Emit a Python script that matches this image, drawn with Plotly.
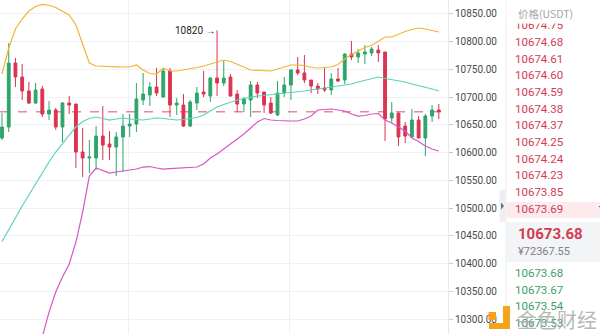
import plotly.graph_objects as go
import numpy as np

W, H = 600, 334

# ---------------- data ----------------
opens = [10626.2, 10646.0, 10761.2, 10736.0, 10710.8, 10689.2, 10714.4, 10669.4, 10676.6, 10646.0,
         10689.2, 10687.4, 10601.0, 10590.2, 10590.2, 10629.8, 10615.4, 10610.0, 10628.0, 10647.8,
         10651.4, 10694.6, 10703.6, 10718.0, 10700.0, 10746.8, 10685.6, 10685.6, 10647.8, 10689.2,
         10709.0, 10701.8, 10734.2, 10725.2, 10736.0, 10705.4, 10687.4, 10694.6, 10721.6, 10709.0,
         10689.2, 10667.6, 10707.2, 10721.6, 10748.6, 10743.2, 10730.6, 10719.8, 10716.2, 10712.6,
         10732.4, 10730.6, 10777.4, 10772.0, 10777.4, 10779.2, 10784.6, 10781.0, 10662.2, 10671.2,
         10647.8, 10628.0, 10658.6, 10626.2, 10665.8, 10676.6]
highs = [10671.2, 10797.2, 10770.2, 10759.4, 10727.0, 10725.2, 10719.8, 10692.8, 10680.2, 10691.0,
         10701.8, 10687.4, 10644.2, 10622.6, 10647.8, 10683.8, 10638.8, 10637.0, 10669.4, 10669.4,
         10725.2, 10743.2, 10727.0, 10752.2, 10752.2, 10752.2, 10698.2, 10705.4, 10694.6, 10718.0,
         10746.8, 10735.5, 10820.0, 10764.8, 10741.4, 10712.6, 10700.0, 10728.8, 10727.0, 10709.0,
         10700.0, 10728.8, 10736.0, 10750.0, 10772.0, 10775.6, 10730.6, 10725.2, 10754.0, 10743.2,
         10752.2, 10778.5, 10800.8, 10786.4, 10793.6, 10790.0, 10793.6, 10781.0, 10691.0, 10671.2,
         10655.0, 10678.4, 10665.8, 10669.4, 10685.6, 10687.4]
lows = [10622.6, 10637.0, 10718.0, 10694.6, 10687.4, 10687.4, 10664.0, 10658.6, 10640.6, 10619.0,
        10669.4, 10572.2, 10556.0, 10563.2, 10568.6, 10586.6, 10586.6, 10557.8, 10565.0, 10628.0,
        10637.0, 10685.6, 10683.8, 10701.8, 10699.0, 10664.0, 10667.6, 10646.0, 10646.0, 10676.6,
        10700.0, 10691.0, 10701.8, 10719.8, 10701.0, 10673.0, 10673.0, 10664.0, 10698.2, 10671.2,
        10669.4, 10665.8, 10700.0, 10694.6, 10739.6, 10725.2, 10707.2, 10705.4, 10709.0, 10703.6,
        10727.0, 10723.4, 10766.6, 10761.2, 10759.4, 10773.8, 10763.0, 10620.8, 10653.2, 10611.8,
        10617.2, 10628.0, 10626.2, 10593.8, 10655.0, 10660.4]
closes = [10646.0, 10761.2, 10736.0, 10710.8, 10689.2, 10712.6, 10669.4, 10676.6, 10646.0, 10689.2,
          10685.6, 10601.0, 10590.2, 10592.0, 10629.8, 10613.6, 10610.0, 10628.0, 10647.8, 10651.4,
          10696.4, 10705.4, 10718.0, 10707.2, 10746.8, 10685.6, 10689.2, 10647.8, 10691.0, 10707.2,
          10705.4, 10734.2, 10725.2, 10734.2, 10701.8, 10687.4, 10696.4, 10721.6, 10707.2, 10685.6,
          10671.2, 10707.2, 10721.6, 10748.6, 10743.2, 10730.6, 10719.8, 10714.4, 10712.6, 10732.4,
          10728.8, 10777.4, 10772.0, 10779.2, 10781.0, 10786.4, 10779.2, 10660.4, 10671.2, 10628.0,
          10629.8, 10658.6, 10626.2, 10665.8, 10676.6, 10673.68]

upper = [10741.4, 10788.2, 10822.4, 10840.4, 10854.8, 10862.9, 10866.7, 10865.1, 10861.1, 10854.8,
         10847.6, 10829.6, 10793.6, 10761.2, 10755.8, 10754.9, 10754.7, 10754.4, 10754.0, 10754.0,
         10757.6, 10748.6, 10742.3, 10741.4, 10752.2, 10746.8, 10746.8, 10748.6, 10750.4, 10753.1,
         10755.8, 10759.4, 10763.0, 10766.6, 10763.9, 10759.4, 10754.0, 10748.6, 10747.7, 10746.8,
         10746.8, 10750.4, 10754.0, 10757.6, 10757.6, 10756.7, 10753.1, 10752.2, 10753.1, 10754.0,
         10758.5, 10768.4, 10776.5, 10782.8, 10789.1, 10792.7, 10800.8, 10808.0, 10808.0, 10813.4,
         10817.9, 10821.5, 10824.2, 10822.4, 10819.7, 10817.0]
middle = [10439.9, 10462.4, 10482.2, 10503.8, 10523.6, 10543.4, 10565.0, 10583.0, 10601.0, 10617.2,
          10631.6, 10646.0, 10655.9, 10661.3, 10664.0, 10661.3, 10658.6, 10660.4, 10662.2, 10660.4,
          10659.5, 10658.6, 10660.4, 10662.2, 10661.3, 10659.5, 10658.6, 10659.5, 10661.3, 10663.1,
          10667.6, 10674.8, 10682.0, 10686.5, 10691.0, 10694.6, 10697.3, 10700.0, 10701.8, 10702.7,
          10704.5, 10706.3, 10707.2, 10708.1, 10709.0, 10710.8, 10712.6, 10714.4, 10716.2, 10718.0,
          10718.9, 10721.6, 10723.4, 10727.0, 10729.7, 10733.3, 10736.0, 10733.3, 10731.5, 10728.8,
          10727.0, 10723.4, 10720.7, 10717.1, 10714.4, 10710.8]
lower = [10138.4, 10136.6, 10142.0, 10167.2, 10192.4, 10223.9, 10269.8, 10313.0, 10349.0, 10376.0,
         10399.4, 10439.0, 10493.0, 10557.8, 10572.2, 10567.7, 10563.2, 10565.0, 10566.8, 10567.7,
         10570.4, 10574.0, 10574.9, 10572.2, 10570.4, 10571.3, 10572.2, 10572.2, 10573.1, 10574.0,
         10579.4, 10590.2, 10597.4, 10606.4, 10615.4, 10624.4, 10633.4, 10644.2, 10655.0, 10661.3,
         10658.6, 10657.7, 10656.8, 10656.8, 10656.8, 10660.4, 10665.8, 10676.6, 10677.5, 10678.4,
         10676.6, 10674.8, 10669.4, 10665.8, 10666.7, 10669.4, 10670.3, 10658.6, 10653.2, 10646.0,
         10638.8, 10626.2, 10619.9, 10611.8, 10606.4, 10602.8]

y_ticks = [10300, 10350, 10400, 10450, 10500, 10550, 10600, 10650, 10700, 10750, 10800, 10850]
last_price = 10673.68
peak_label = "10820 →"
peak_index = 32
peak_value = 10820.0

ask_prices = ["10674.75", "10674.68", "10674.61", "10674.60", "10674.59", "10674.38",
              "10674.37", "10674.25", "10674.24", "10674.23", "10673.85", "10673.69"]
bid_prices = ["10673.68", "10673.67", "10673.54", "10673.53"]
last_price_text = "10673.68"
cny_text = "¥72367.55"
header_text = "价格(USDT)"
watermark_text = "金色财经"

# ---------------- style ----------------
RED = "#db3450"
GREEN = "#2fa56a"
TXT_RED = "#d23c52"
TXT_GREEN = "#3a9f6c"
FONT = "Roboto"
PLOT_R = 448          # right edge of candle area (px)
BOOK_L = 506          # left edge of order book (px)

x = np.arange(len(opens))
step_px = 6.72
x_first_px = 2.0

fig = go.Figure()

fig.add_trace(go.Candlestick(
    x=x, open=opens, high=highs, low=lows, close=closes,
    increasing=dict(line=dict(color=GREEN, width=1), fillcolor=GREEN),
    decreasing=dict(line=dict(color=RED, width=1), fillcolor=RED),
    whiskerwidth=0, hoverinfo="skip", showlegend=False,
))
for vals, col in [(upper, "#f2b431"), (middle, "#5ad2c0"), (lower, "#d854c8")]:
    fig.add_trace(go.Scatter(x=x, y=vals, mode="lines", line=dict(color=col, width=1.2),
                             hoverinfo="skip", showlegend=False))

# order book texts
ask_y = 26.3 + 16.7 * np.arange(len(ask_prices))
bid_y = 274.0 + 16.7 * np.arange(len(bid_prices))
fig.add_trace(go.Scatter(x=[515] * len(ask_prices), y=ask_y, text=ask_prices, mode="text",
                         textposition="middle right",
                         textfont=dict(family=FONT, size=11.5, color=TXT_RED),
                         xaxis="x2", yaxis="y2", hoverinfo="skip", showlegend=False))
fig.add_trace(go.Scatter(x=[515] * len(bid_prices), y=bid_y, text=bid_prices, mode="text",
                         textposition="middle right",
                         textfont=dict(family=FONT, size=11.5, color=TXT_GREEN),
                         xaxis="x2", yaxis="y2", hoverinfo="skip", showlegend=False))

x_lo = -x_first_px / step_px
x_hi = x_lo + PLOT_R / step_px
y_lo, y_hi = 10273.5, 10874.6

fig.update_layout(
    width=W, height=H, margin=dict(l=0, r=0, t=0, b=0),
    paper_bgcolor="white", plot_bgcolor="white",
    boxgap=0.4,
    xaxis=dict(domain=[0, PLOT_R / W], range=[x_lo, x_hi], rangeslider=dict(visible=False),
               showticklabels=False, ticks="", showgrid=True, gridcolor="#eef0f3",
               tickvals=[(128 - x_first_px) / step_px, (289 - x_first_px) / step_px],
               zeroline=False, showline=False, fixedrange=True),
    yaxis=dict(range=[y_lo, y_hi], side="right", anchor="x", tickvals=y_ticks,
               tickformat=".2f", ticks="outside", ticklen=4, tickcolor="#c8cbd0",
               tickfont=dict(family=FONT, size=10, color="#4a4a4a"),
               showgrid=True, gridcolor="#f0f1f4", zeroline=False,
               showline=True, linecolor="#e6e8eb", linewidth=1, fixedrange=True),
    xaxis2=dict(domain=[BOOK_L / W, 1], range=[BOOK_L, W], anchor="y2", visible=False),
    yaxis2=dict(domain=[0, 1], range=[H, 0], anchor="x2", visible=False),
)

def px(xp):
    return xp / W

def py(yp):
    return 1 - yp / H

shapes = []
# current price dashed line
shapes.append(dict(type="line", xref="x", yref="y", x0=x_lo, x1=x_hi, y0=last_price, y1=last_price,
                   line=dict(color="#e68a96", width=1.5, dash="dash"), layer="between"))
# order book separator line
shapes.append(dict(type="line", xref="paper", yref="paper", x0=px(BOOK_L), x1=px(BOOK_L), y0=0, y1=1,
                   line=dict(color="#eceef1", width=1)))
# white header band hiding the top half of the first ask row
shapes.append(dict(type="rect", xref="paper", yref="paper", x0=px(BOOK_L + 0.6), x1=1,
                   y0=py(23.5), y1=1, fillcolor="white", line=dict(width=0), layer="above"))
# highlighted ask row
shapes.append(dict(type="rect", xref="paper", yref="paper", x0=px(BOOK_L + 0.5), x1=1,
                   y0=py(218), y1=py(202), fillcolor="#fdeaed", line=dict(width=0), layer="below"))
# last price block
shapes.append(dict(type="rect", xref="paper", yref="paper", x0=px(BOOK_L + 0.5), x1=1,
                   y0=py(262), y1=py(222), fillcolor="#f3f4f6", line=dict(width=0), layer="below"))
# collapse handle
shapes.append(dict(type="rect", xref="paper", yref="paper", x0=px(499.5), x1=px(505.5),
                   y0=py(222), y1=py(190), fillcolor="#eceef1", line=dict(width=0)))
shapes.append(dict(type="path", xref="paper", yref="paper",
                   path=f"M {px(501)} {py(202.5)} L {px(504)} {py(206)} L {px(501)} {py(209.5)} Z",
                   fillcolor="#6b6f75", line=dict(width=0)))
# watermark logo
LOGO = "#f5a31a"
shapes.append(dict(type="rect", xref="paper", yref="paper", x0=px(488.5), x1=px(496), y0=py(320), y1=py(312),
                   fillcolor=LOGO, line=dict(width=0), layer="above"))
shapes.append(dict(type="rect", xref="paper", yref="paper", x0=px(503), x1=px(510), y0=py(329), y1=py(306),
                   fillcolor=LOGO, line=dict(width=0), layer="above"))
shapes.append(dict(type="rect", xref="paper", yref="paper", x0=px(489), x1=px(510), y0=py(329), y1=py(323),
                   fillcolor=LOGO, line=dict(width=0), layer="above"))
fig.update_layout(shapes=shapes)

annotations = [
    dict(x=peak_index, y=peak_value, xref="x", yref="y", text=peak_label, showarrow=False,
         xanchor="right", yanchor="middle", xshift=1, font=dict(family=FONT, size=10, color="#222")),
    dict(x=px(516), y=py(13), xref="paper", yref="paper", text=header_text, showarrow=False,
         xanchor="left", yanchor="middle",
         font=dict(family="Noto Sans CJK SC", size=10.5, color="#a2a5ab")),
    dict(x=px(516), y=py(234), xref="paper", yref="paper", text=f"<b>{last_price_text}</b>",
         showarrow=False, xanchor="left", yanchor="middle",
         font=dict(family=FONT, size=15, color=TXT_RED)),
    dict(x=px(516), y=py(252), xref="paper", yref="paper", text=cny_text, showarrow=False,
         xanchor="left", yanchor="middle", font=dict(family=FONT, size=11, color="#7d8087")),
    dict(x=px(596), y=py(210), xref="paper", yref="paper", text="1", showarrow=False,
         xanchor="left", yanchor="middle", font=dict(family=FONT, size=12, color="#444")),
    dict(x=px(515), y=py(319), xref="paper", yref="paper", text=watermark_text, showarrow=False,
         xanchor="left", yanchor="middle",
         font=dict(family="Noto Sans CJK SC", size=20, color="rgba(170,170,170,0.85)")),
]
fig.update_layout(annotations=annotations)

fig.write_html("out.html")
